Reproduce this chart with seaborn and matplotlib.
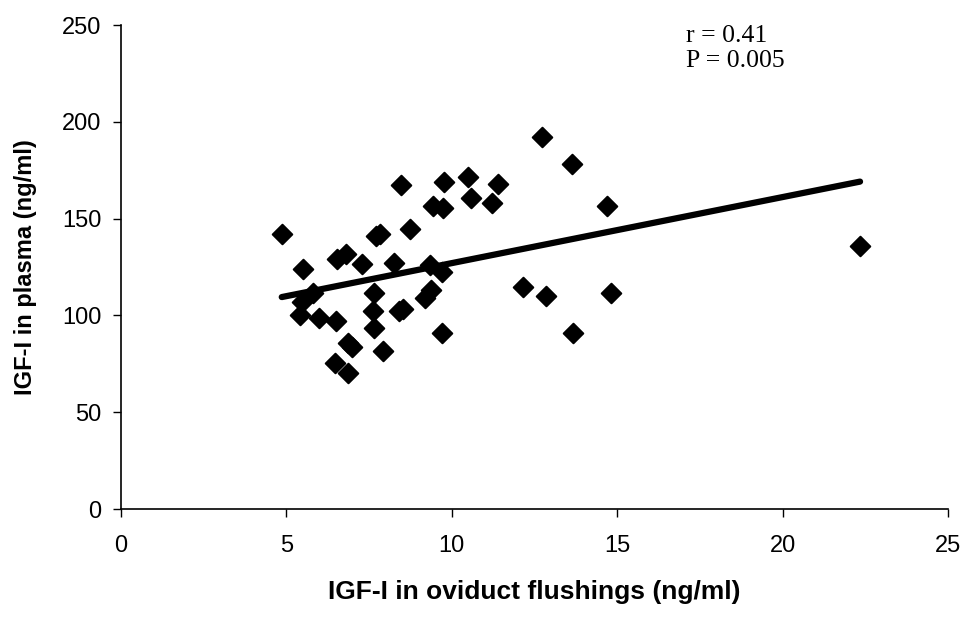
import numpy as np
import pandas as pd
import matplotlib
matplotlib.use("Agg")
import matplotlib.pyplot as plt
import seaborn as sns

flushing = [4.86, 5.49, 5.81, 5.46, 5.41, 6.0, 6.5, 6.52, 6.79, 7.3,
            7.72, 7.82, 8.46, 8.74, 8.25, 7.66, 7.63, 7.66, 8.4, 8.52,
            9.34, 9.71, 9.37, 9.19, 9.69, 6.85, 6.98, 7.93, 6.47, 6.87,
            9.44, 9.74, 9.77, 10.5, 10.57, 11.39, 11.22, 12.14,
            12.74, 13.62, 14.68, 12.84, 14.81, 13.67, 22.34]
plasma = [141.9, 123.8, 111.7, 107.1, 100.2, 98.5, 97.3, 129.0, 131.6, 126.4,
          141.0, 141.8, 167.4, 144.5, 126.9, 111.7, 102.3, 93.3, 102.5, 103.3,
          126.0, 122.6, 113.0, 108.8, 90.7, 85.5, 83.5, 81.6, 75.6, 70.1,
          156.5, 155.3, 169.1, 171.6, 160.8, 167.9, 157.9, 114.8,
          192.0, 178.2, 156.5, 110.0, 111.4, 91.1, 136.0]

x_ticks = [0, 5, 10, 15, 20, 25]
y_ticks = [0, 50, 100, 150, 200, 250]
stats_text = "r = 0.41\nP = 0.005"

df = pd.DataFrame({"flush": flushing, "plasma": plasma})

sns.set_theme(style="white")
plt.rcParams['font.family'] = ['Liberation Sans', 'DejaVu Sans']

fig = plt.figure(figsize=(9.67, 6.19), dpi=100)
ax = fig.add_axes([0.1251, 0.1777, 0.9804 - 0.1251, 0.9596 - 0.1777])

sns.scatterplot(data=df, x="flush", y="plasma", marker="D", s=100,
                color="black", edgecolor="black", linewidth=1.4, ax=ax, zorder=3)

coef = np.polyfit(df["flush"], df["plasma"], 1)
xs = np.array([df["flush"].min(), df["flush"].max()])
sns.lineplot(x=xs, y=np.polyval(coef, xs), color="black", linewidth=4.5,
             ax=ax, zorder=4, solid_capstyle="round")

ax.set_xlim(0, 25)
ax.set_ylim(0, 250)
ax.set_xticks(x_ticks)
ax.set_yticks(y_ticks)
ax.tick_params(axis="both", labelsize=17, direction="out", length=6, width=1.0,
               color="black", bottom=True, left=True, labelcolor="black")
ax.tick_params(axis="x", pad=13)
ax.tick_params(axis="y", pad=8)
for s in ["top", "right"]:
    ax.spines[s].set_visible(False)
for s in ["left", "bottom"]:
    ax.spines[s].set_color("black")
    ax.spines[s].set_linewidth(1.2)

ax.set_xlabel("IGF-I in oviduct flushings (ng/ml)", fontsize=19, fontweight="bold",
              labelpad=16, color="black")
ax.set_ylabel("IGF-I in plasma (ng/ml)", fontsize=17, fontweight="bold",
              labelpad=18, color="black")

ax.text(0.683, 1.0, stats_text, transform=ax.transAxes, fontsize=18.5,
        family=["Liberation Serif", "DejaVu Serif"], va="top", ha="left",
        linespacing=1.2, color="black")

fig.savefig("out.png", dpi=100)
